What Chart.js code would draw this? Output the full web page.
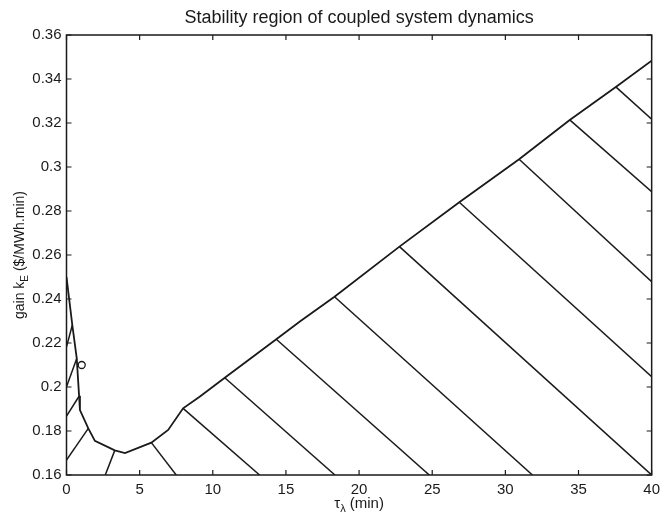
<!DOCTYPE html>
<html>
<head>
<meta charset="utf-8">
<script src="https://cdn.jsdelivr.net/npm/chart.js@4/dist/chart.umd.min.js"></script>
<style>
  html, body { margin: 0; padding: 0; background: #fff; }
  #wrap { width: 666px; height: 516px; position: relative; }
</style>
</head>
<body>
<div id="wrap"><canvas id="stab"></canvas></div>
<script>
// ── data ──────────────────────────────────────────────────
// stability boundary (tau_lambda [min], gain k_E)
const boundaryTau  = [0, 0.4, 0.7, 0.86, 0.92, 1.49, 1.94, 3.3, 4.0, 5.8, 6.95, 7.97, 9.1, 10.82, 14.34, 15.93, 18.32, 22.76, 26.85, 30.94, 34.4, 37.55, 40];
const boundaryGain = [0.25, 0.228, 0.213, 0.196, 0.1895, 0.1812, 0.1755, 0.1712, 0.170, 0.1747, 0.1805, 0.1903, 0.1956, 0.2042, 0.2217, 0.2297, 0.241, 0.2638, 0.284, 0.3035, 0.3214, 0.3364, 0.3483];

// hatch segments: start (A) -> end (B)
const hatchTauA  = [0, 0, 0, 0, 2.65, 5.8, 7.97, 10.82, 14.34, 18.32, 22.76, 26.85, 30.94, 34.4, 37.55];
const hatchGainA = [0.1668, 0.1868, 0.2001, 0.2183, 0.16, 0.1747, 0.1903, 0.2042, 0.2217, 0.241, 0.2638, 0.284, 0.3035, 0.3214, 0.3364];
const hatchTauB  = [1.49, 0.86, 0.7, 0.4, 3.3, 7.5, 13.2, 18.35, 24.8, 31.85, 40, 40, 40, 40, 40];
const hatchGainB = [0.1812, 0.1958, 0.213, 0.2282, 0.1712, 0.16, 0.16, 0.16, 0.16, 0.16, 0.16, 0.2047, 0.2479, 0.2888, 0.3217];

// operating point marker
const markerTau  = [1.04];
const markerGain = [0.21];

const xTicks = [0, 5, 10, 15, 20, 25, 30, 35, 40];
const yTicks = [0.16, 0.18, 0.2, 0.22, 0.24, 0.26, 0.28, 0.3, 0.32, 0.34, 0.36];

const INK  = "#1a1a1a";
const FONT = "'Liberation Sans', Arial, Helvetica, sans-serif";

// ── datasets ─────────────────────────────────────────────
const datasets = [];

datasets.push({
  label: "boundary",
  data: boundaryTau.map((t, i) => ({ x: t, y: boundaryGain[i] })),
  showLine: true,
  borderColor: INK,
  borderWidth: 1.8,
  pointRadius: 0,
  tension: 0,
});

hatchTauA.forEach((t, i) => {
  datasets.push({
    label: "hatch" + i,
    data: [{ x: t, y: hatchGainA[i] }, { x: hatchTauB[i], y: hatchGainB[i] }],
    showLine: true,
    borderColor: INK,
    borderWidth: 1.5,
    pointRadius: 0,
  });
});

datasets.push({
  label: "marker",
  data: markerTau.map((t, i) => ({ x: t, y: markerGain[i] })),
  showLine: false,
  pointStyle: "circle",
  pointRadius: 3.5,
  pointBorderWidth: 1.3,
  pointBorderColor: INK,
  pointBackgroundColor: "#fff",
});

// ── frame, inward ticks, titles (matlab look) ─────────────
const matlabFrame = {
  id: "matlabFrame",
  afterDraw(chart) {
    const { ctx, chartArea: a, scales } = chart;
    const xs = scales.x, ys = scales.y;
    const len = 5;
    ctx.save();
    ctx.strokeStyle = INK;
    ctx.lineWidth = 1.5;
    ctx.strokeRect(a.left, a.top, a.right - a.left, a.bottom - a.top);

    ctx.lineWidth = 1.2;
    ctx.beginPath();
    xTicks.forEach(v => {
      const px = xs.getPixelForValue(v);
      ctx.moveTo(px, a.bottom); ctx.lineTo(px, a.bottom - len);
      ctx.moveTo(px, a.top);    ctx.lineTo(px, a.top + len);
    });
    yTicks.forEach(v => {
      const py = ys.getPixelForValue(v);
      ctx.moveTo(a.left, py);  ctx.lineTo(a.left + len, py);
      ctx.moveTo(a.right, py); ctx.lineTo(a.right - len, py);
    });
    ctx.stroke();

    ctx.fillStyle = INK;
    // title
    ctx.font = `18px ${FONT}`;
    ctx.textAlign = "center";
    ctx.textBaseline = "alphabetic";
    ctx.fillText("Stability region of coupled system dynamics", (a.left + a.right) / 2, 23);

    // x title: tau_lambda (min)
    drawSubText(ctx, [["τ", 0], ["λ", 1], [" (min)", 0]], (a.left + a.right) / 2, 508, 15);

    // y title: gain k_E ($/MWh.min)
    ctx.translate(24, (a.top + a.bottom) / 2);
    ctx.rotate(-Math.PI / 2);
    drawSubText(ctx, [["gain k", 0], ["E", 1], [" ($/MWh.min)", 0]], 0, 0, 14);
    ctx.restore();
  },
};

function drawSubText(ctx, parts, cx, baseY, size) {
  const subSize = Math.round(size * 0.72);
  const widths = parts.map(([s, sub]) => {
    ctx.font = `${sub ? subSize : size}px ${FONT}`;
    return ctx.measureText(s).width;
  });
  let x = cx - widths.reduce((a, b) => a + b, 0) / 2;
  ctx.textAlign = "left";
  ctx.textBaseline = "alphabetic";
  parts.forEach(([s, sub], i) => {
    ctx.font = `${sub ? subSize : size}px ${FONT}`;
    ctx.fillText(s, x, baseY + (sub ? 4 : 0));
    x += widths[i];
  });
}

// ── chart ────────────────────────────────────────────────
new Chart(document.getElementById("stab").getContext("2d"), {
  type: "scatter",
  data: { datasets },
  plugins: [matlabFrame],
  options: {
    responsive: true,
    maintainAspectRatio: false,
    animation: false,
    layout: { padding: { left: 0, right: 14, top: 35, bottom: 0 } },
    plugins: {
      legend: { display: false },
      tooltip: { enabled: false },
      title: { display: false },
    },
    scales: {
      x: {
        type: "linear",
        min: 0, max: 40,
        afterBuildTicks: s => { s.ticks = xTicks.map(v => ({ value: v })); },
        afterFit: s => { s.height = 41; },
        grid: { display: false, drawTicks: false },
        border: { display: false },
        ticks: {
          color: INK,
          padding: 6,
          maxRotation: 0,
          font: { family: FONT, size: 15 },
          callback: v => String(v),
        },
      },
      y: {
        type: "linear",
        min: 0.16, max: 0.36,
        afterBuildTicks: s => { s.ticks = yTicks.map(v => ({ value: v })); },
        afterFit: s => { s.width = 66.5; },
        grid: { display: false, drawTicks: false },
        border: { display: false },
        ticks: {
          color: INK,
          padding: 5,
          font: { family: FONT, size: 15 },
          callback: v => String(parseFloat(Number(v).toFixed(2))),
        },
      },
    },
  },
});
</script>
</body>
</html>
